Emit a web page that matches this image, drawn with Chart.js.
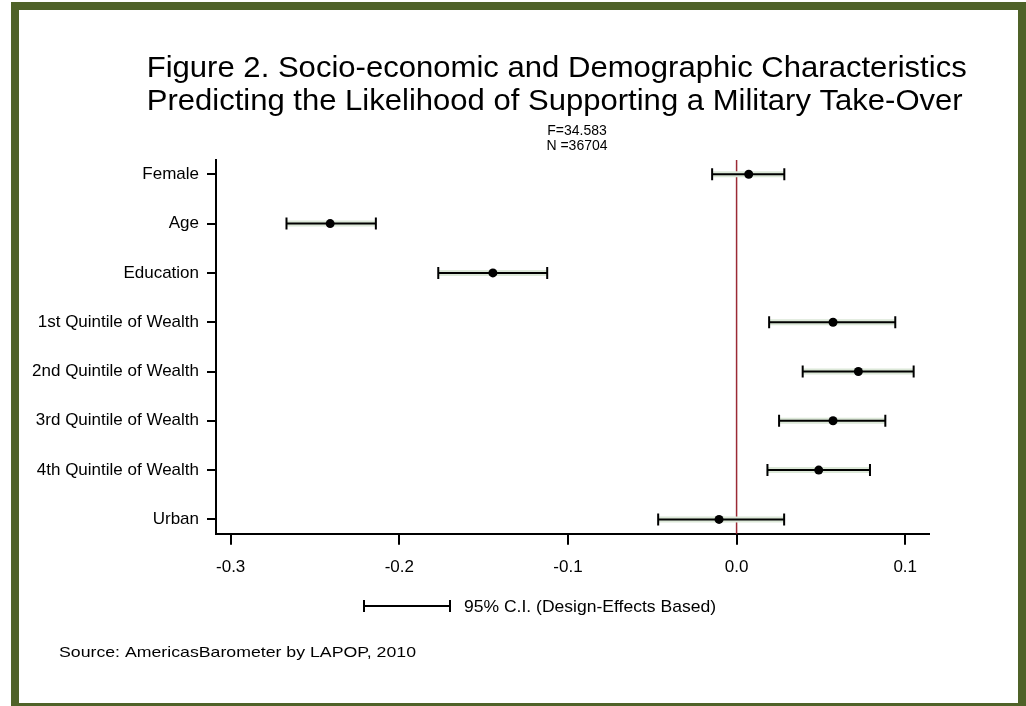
<!DOCTYPE html>
<html>
<head>
<meta charset="utf-8">
<script src="https://cdn.jsdelivr.net/npm/chart.js@4.4.1/dist/chart.umd.min.js"></script>
<style>
  body { margin: 0; background: #fff; overflow: hidden; width: 1026px; height: 706px; position: relative; }
  #frame { position: absolute; left: 11px; top: 2px; width: 999px; height: 693px; border: 8px solid #4f6228; }
  #chart { position: absolute; left: 0; top: 0; }
</style>
</head>
<body>
<div id="frame"></div>
<canvas id="chart" width="1026" height="706"></canvas>
<script>
const categories = ['Female', 'Age', 'Education', '1st Quintile of Wealth', '2nd Quintile of Wealth',
  '3rd Quintile of Wealth', '4th Quintile of Wealth', 'Urban'];
const estimates = [0.0072, -0.2410, -0.1445, 0.0572, 0.0722, 0.0572, 0.0487, -0.0104];
const ciLow = [-0.0145, -0.2669, -0.1769, 0.0193, 0.0392, 0.0252, 0.0183, -0.0465];
const ciHigh = [0.0283, -0.2139, -0.1123, 0.0941, 0.1050, 0.0882, 0.0791, 0.0282];
const xTicks = [-0.3, -0.2, -0.1, 0.0, 0.1];

const FONT = '"Liberation Sans", Arial, sans-serif';

// interval segments, separated by null points so the line breaks between rows
const segments = [];
categories.forEach((c, i) => {
  segments.push({ x: ciLow[i], y: i }, { x: ciHigh[i], y: i }, { x: null, y: null });
});
const points = estimates.map((v, i) => ({ x: v, y: i }));

// draw text squeezed/stretched to a given width
function fitText(ctx, text, left, baseline, width, size) {
  ctx.save();
  ctx.font = size + 'px ' + FONT;
  const w = ctx.measureText(text).width;
  ctx.translate(left, baseline);
  ctx.scale(width / w, 1);
  ctx.textAlign = 'left';
  ctx.textBaseline = 'alphabetic';
  ctx.fillStyle = '#000';
  ctx.fillText(text, 0, 0);
  ctx.restore();
}

const zeroLine = {
  id: 'zeroLine',
  beforeDatasetsDraw(chart) {
    const { ctx, chartArea, scales } = chart;
    const x = scales.x.getPixelForValue(0);
    ctx.save();
    ctx.strokeStyle = '#9b2a35';
    ctx.lineWidth = 1.5;
    ctx.beginPath();
    ctx.moveTo(x, chartArea.top);
    ctx.lineTo(x, chartArea.bottom);
    ctx.stroke();
    ctx.restore();
  }
};

const notes = {
  id: 'notes',
  afterDraw(chart) {
    const ctx = chart.ctx;
    fitText(ctx, 'Figure 2. Socio-economic and Demographic Characteristics', 146.7, 77, 820, 29);
    fitText(ctx, 'Predicting the Likelihood of Supporting a Military Take-Over', 146.7, 110, 816, 29);

    ctx.save();
    ctx.fillStyle = '#000';
    ctx.font = '14px ' + FONT;
    ctx.textAlign = 'center';
    ctx.fillText('F=34.583', 577, 135);
    ctx.fillText('N =36704', 577, 150);

    // legend: interval glyph + label
    ctx.strokeStyle = '#000';
    ctx.lineWidth = 2;
    ctx.beginPath();
    ctx.moveTo(364, 606); ctx.lineTo(450, 606);
    ctx.moveTo(364, 600); ctx.lineTo(364, 612);
    ctx.moveTo(450, 600); ctx.lineTo(450, 612);
    ctx.stroke();
    ctx.restore();
    fitText(ctx, '95% C.I. (Design-Effects Based)', 464, 612, 252, 17);

    fitText(ctx, 'Source: AmericasBarometer by LAPOP, 2010', 59, 657, 357, 15);
  }
};

new Chart(document.getElementById('chart'), {
  type: 'scatter',
  data: {
    datasets: [
      {
        data: points,
        backgroundColor: '#000',
        borderColor: '#000',
        pointRadius: 4.5,
        pointBorderWidth: 0,
        order: 0
      },
      {
        data: segments,
        showLine: true,
        spanGaps: false,
        borderColor: '#000',
        borderWidth: 2,
        pointStyle: 'line',
        rotation: 90,
        pointRadius: 6,
        pointBorderWidth: 2,
        pointBorderColor: '#000',
        order: 1
      },
      {
        data: segments,
        showLine: true,
        spanGaps: false,
        borderColor: '#dce8d8',
        borderWidth: 6,
        pointRadius: 0,
        order: 2
      }
    ]
  },
  options: {
    responsive: false,
    animation: false,
    events: [],
    layout: { padding: { top: 160, right: 97, left: 0, bottom: 0 } },
    plugins: { legend: { display: false }, tooltip: { enabled: false } },
    scales: {
      x: {
        type: 'linear',
        min: -0.3087,
        max: 0.1141,
        afterBuildTicks: s => { s.ticks = xTicks.map(v => ({ value: v })); },
        afterFit: s => { s.height = 706 - 533.7; },
        ticks: {
          callback: v => v.toFixed(1),
          font: { family: FONT, size: 17 },
          color: '#000',
          padding: 12,
          maxRotation: 0,
          autoSkip: false
        },
        grid: { drawOnChartArea: false, tickLength: 11, color: '#000', lineWidth: 2 },
        border: { display: true, color: '#000', width: 2 }
      },
      y: {
        type: 'linear',
        reverse: true,
        min: -0.29,
        max: 7.29,
        afterBuildTicks: s => { s.ticks = categories.map((c, i) => ({ value: i })); },
        afterFit: s => { s.width = 216; },
        ticks: {
          callback: v => categories[v],
          font: { family: FONT, size: 17 },
          color: '#000',
          padding: 8,
          autoSkip: false
        },
        grid: { drawOnChartArea: false, tickLength: 9, color: '#000', lineWidth: 2 },
        border: { display: true, color: '#000', width: 2 }
      }
    }
  },
  plugins: [zeroLine, notes]
});
</script>
</body>
</html>
